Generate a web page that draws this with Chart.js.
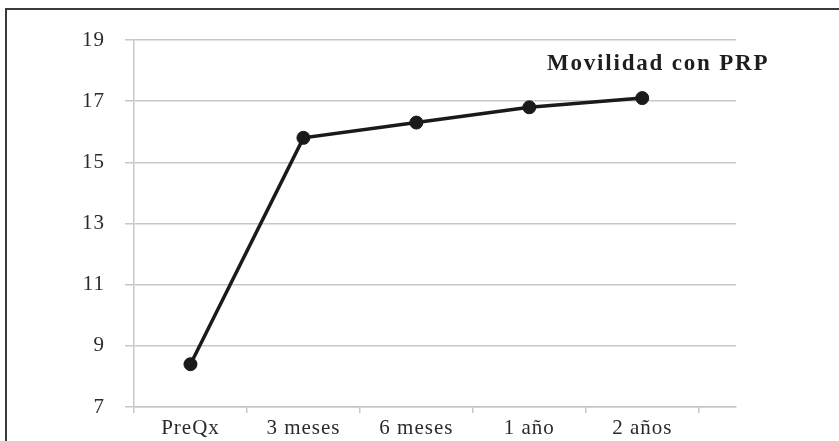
<!DOCTYPE html>
<html>
<head>
<meta charset="utf-8">
<script src="https://cdn.jsdelivr.net/npm/chart.js@4/dist/chart.umd.min.js"></script>
<style>
  html, body { margin: 0; padding: 0; background: #fff; overflow: hidden; }
  #wrap { position: relative; width: 839px; height: 441px; }
  #frame { position: absolute; left: 5px; top: 8px; width: 900px; height: 500px;
           border: 2px solid #3a3a3a; box-sizing: border-box; pointer-events: none; }
  canvas { position: absolute; left: 0; top: 0; }
</style>
</head>
<body>
<div id="wrap">
  <canvas id="chart" width="839" height="441"></canvas>
  <div id="frame"></div>
</div>
<script>
// Time points and mobility scores
const categories = ['PreQx', '3 meses', '6 meses', '1 año', '2 años'];
const movilidad = [8.4, 15.8, 16.3, 16.8, 17.1];
const yTicks = [7, 9, 11, 13, 15, 17, 19];
const seriesName = 'Movilidad con PRP';

const FONT = "'Liberation Serif', 'Times New Roman', serif";
const GRID = '#c8c8c8';
const TEXT = '#2b2b2b';

// Tracking for the serif text
const letterSpacingPlugin = {
  id: 'tracking',
  beforeDraw(chart) { chart.ctx.letterSpacing = '1px'; }
};

// Series name drawn inside the plot, near the top right
const seriesLabel = {
  id: 'seriesLabel',
  afterDatasetsDraw(chart) {
    const { ctx, chartArea } = chart;
    ctx.save();
    ctx.letterSpacing = '1.8px';
    ctx.font = "bold 23px " + FONT;
    ctx.fillStyle = '#1e1e1e';
    ctx.textAlign = 'left';
    ctx.textBaseline = 'alphabetic';
    ctx.fillText(seriesName, chartArea.right - 189, chartArea.top + 30);
    ctx.restore();
  }
};

const halfSteps = [];
for (let i = 0; i <= categories.length; i++) { halfSteps.push(i - 0.5, i); }
halfSteps.pop();

new Chart(document.getElementById('chart'), {
  type: 'line',
  data: {
    datasets: [{
      label: seriesName,
      data: categories.map((c, i) => ({ x: i, y: movilidad[i] })),
      borderColor: '#1a1a1a',
      borderWidth: 3.5,
      pointBackgroundColor: '#1a1a1a',
      pointBorderColor: '#1a1a1a',
      pointRadius: 6.5,
      pointBorderWidth: 1,
      tension: 0
    }]
  },
  options: {
    responsive: false,
    animation: false,
    events: [],
    layout: { padding: { left: 0, right: 103, top: 40, bottom: 0 } },
    plugins: { legend: { display: false }, tooltip: { enabled: false } },
    scales: {
      x: {
        type: 'linear',
        min: -0.5,
        max: 4.83,
        afterBuildTicks(scale) { scale.ticks = halfSteps.map(v => ({ value: v })); },
        afterFit(scale) { scale.height = 34; },
        ticks: {
          autoSkip: false,
          maxRotation: 0,
          padding: 3,
          color: TEXT,
          font: { family: FONT, size: 21 },
          callback: (v) => Number.isInteger(v) ? categories[v] : ''
        },
        grid: {
          drawOnChartArea: false,
          drawTicks: true,
          tickLength: 6,
          color: (ctx) => (ctx.tick && Number.isInteger(ctx.tick.value)) ? 'rgba(0,0,0,0)' : GRID,
          lineWidth: 1.5
        },
        border: { display: true, color: GRID, width: 1.5 }
      },
      y: {
        min: 7,
        max: 19,
        afterBuildTicks(scale) { scale.ticks = yTicks.map(v => ({ value: v })); },
        afterFit(scale) { scale.width = 134; },
        ticks: {
          padding: 20,
          color: TEXT,
          font: { family: FONT, size: 21 }
        },
        grid: { color: GRID, lineWidth: 1.5, tickLength: 9 },
        border: { display: true, color: GRID, width: 1.5 }
      }
    }
  },
  plugins: [letterSpacingPlugin, seriesLabel]
});
</script>
</body>
</html>
